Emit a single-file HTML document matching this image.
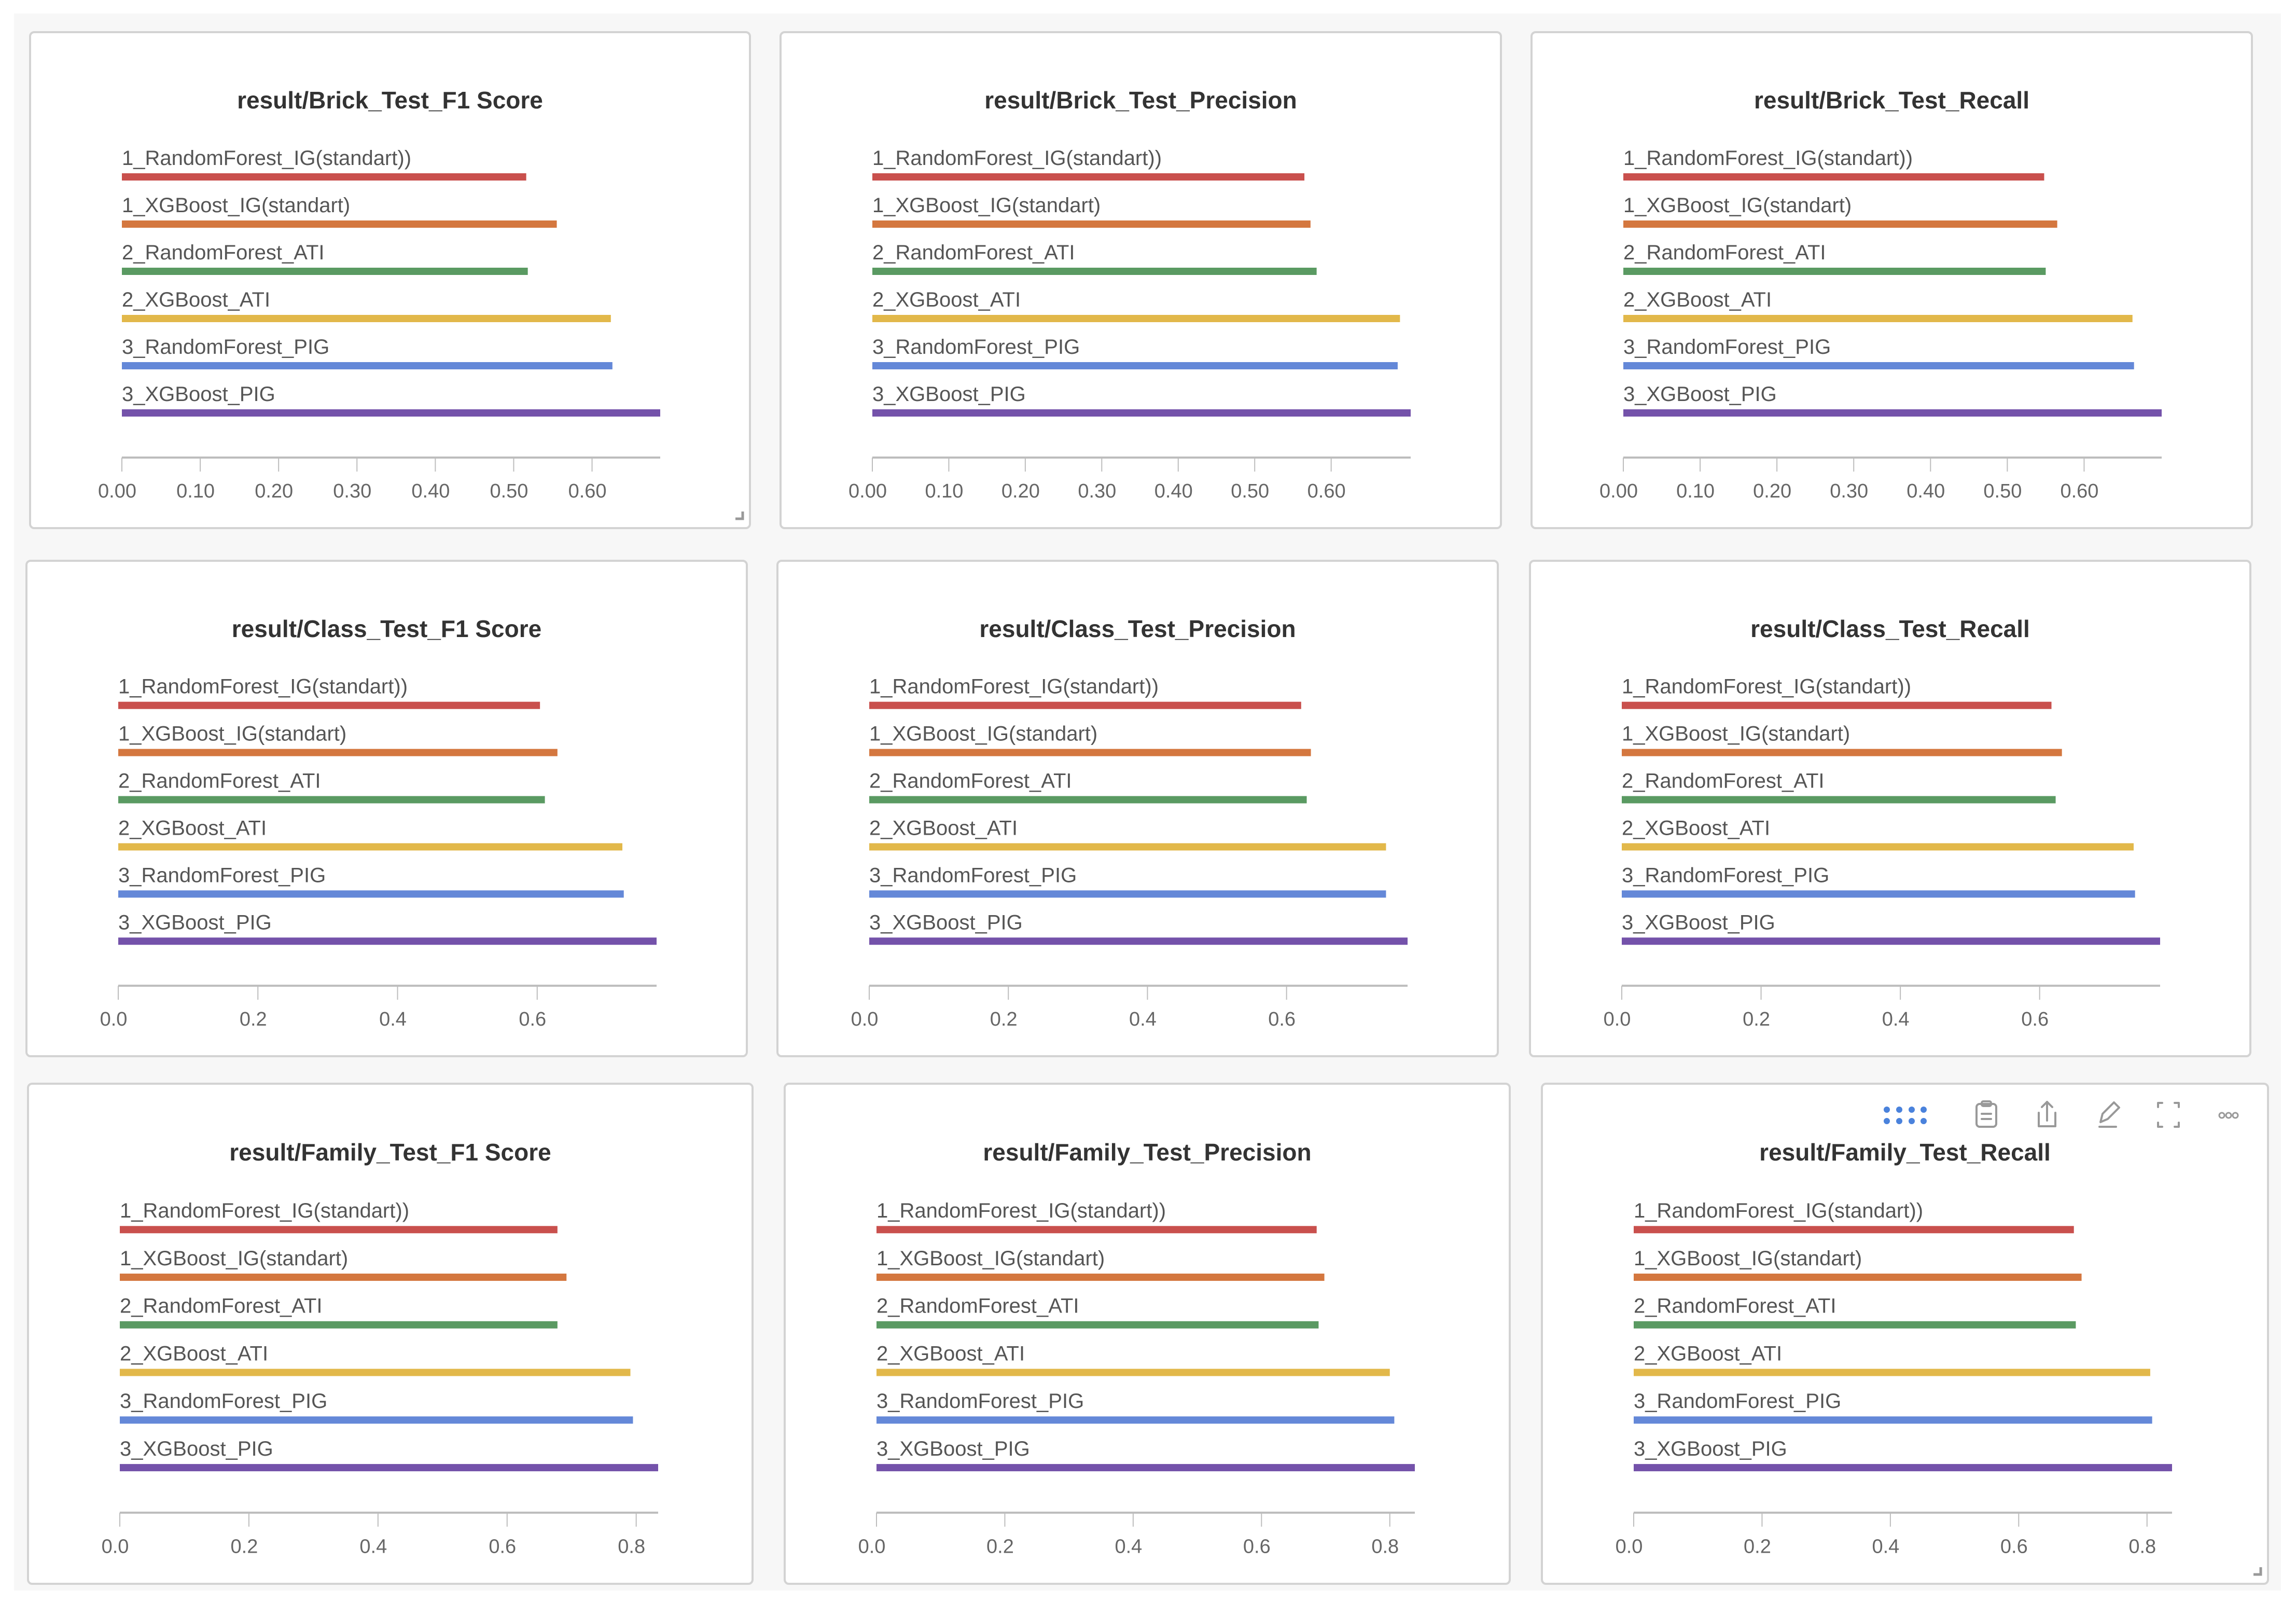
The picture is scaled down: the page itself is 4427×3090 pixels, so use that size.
<!DOCTYPE html>
<html><head><meta charset="utf-8">
<style>
html,body{margin:0;padding:0;background:#fff;}
svg{display:block;font-family:"Liberation Sans",sans-serif;}
</style></head>
<body>
<svg id="root" width="4427" height="3090" viewBox="0 0 4427 3090" xmlns="http://www.w3.org/2000/svg">
<rect x="27" y="26" width="4371" height="3040" fill="#f7f7f7"/>
<g id="panels"></g>
<g fill="none" stroke="#999" stroke-width="4" stroke-linecap="round" stroke-linejoin="round">
  <g fill="#4a82dc" stroke="none">
    <circle cx="3638" cy="2139" r="6"/><circle cx="3662" cy="2139" r="6"/><circle cx="3686" cy="2139" r="6"/><circle cx="3709" cy="2139" r="6"/>
    <circle cx="3638" cy="2161" r="6"/><circle cx="3662" cy="2161" r="6"/><circle cx="3686" cy="2161" r="6"/><circle cx="3709" cy="2161" r="6"/>
  </g>
  <g>
    <rect x="3811" y="2128" width="38" height="44" rx="6"/><rect x="3821" y="2123" width="18" height="9" rx="3"/>
    <line x1="3821" y1="2147" x2="3839" y2="2147"/><line x1="3821" y1="2157" x2="3839" y2="2157"/>
  </g>
  <g>
    <path d="M3931 2145 v26 h32 v-26"/><path d="M3947 2160 v-36 M3937 2134 l10 -10 l10 10"/>
  </g>
  <g>
    <path d="M4050 2163 l4 -16 l22 -22 l10 10 l-22 22 z"/><line x1="4048" y1="2172" x2="4080" y2="2172"/>
  </g>
  <g>
    <path d="M4161 2134 v-8 h8 M4193 2126 h8 v8 M4201 2164 v8 h-8 M4169 2172 h-8 v-8"/>
  </g>
  <g stroke-width="3">
    <circle cx="4284" cy="2150" r="5"/><circle cx="4297" cy="2150" r="5"/><circle cx="4310" cy="2150" r="5"/>
  </g>
</g>
</svg>
<script>
const seriesNames = ["1_RandomForest_IG(standart))","1_XGBoost_IG(standart)","2_RandomForest_ATI","2_XGBoost_ATI","3_RandomForest_PIG","3_XGBoost_PIG"];
const chartTitles = ["result/Brick_Test_F1 Score","result/Brick_Test_Precision","result/Brick_Test_Recall",
  "result/Class_Test_F1 Score","result/Class_Test_Precision","result/Class_Test_Recall",
  "result/Family_Test_F1 Score","result/Family_Test_Precision","result/Family_Test_Recall"];
const brickF1 = [0.516,0.555,0.518,0.624,0.626,0.687];
const brickPrecision = [0.565,0.573,0.581,0.690,0.687,0.704];
const brickRecall = [0.548,0.565,0.550,0.663,0.665,0.701];
const classF1 = [0.604,0.629,0.611,0.722,0.724,0.771];
const classPrecision = [0.621,0.635,0.629,0.743,0.743,0.774];
const classRecall = [0.617,0.632,0.623,0.735,0.737,0.773];
const familyF1 = [0.678,0.692,0.678,0.791,0.795,0.834];
const familyPrecision = [0.686,0.698,0.689,0.800,0.807,0.839];
const familyRecall = [0.686,0.698,0.689,0.805,0.808,0.839];
const brickTicks = ["0.00","0.10","0.20","0.30","0.40","0.50","0.60"];
const classTicks = ["0.0","0.2","0.4","0.6"];
const familyTicks = ["0.0","0.2","0.4","0.6","0.8"];
const colors = ["#c9504d","#d4773f","#5a9a62","#e2b84a","#6488d8","#7452aa"];

const allValues = [brickF1,brickPrecision,brickRecall,classF1,classPrecision,classRecall,familyF1,familyPrecision,familyRecall];
const allTicks = [brickTicks,brickTicks,brickTicks,classTicks,classTicks,classTicks,familyTicks,familyTicks,familyTicks];
const panelRects = [
  [58,62,1388,956],[1505,62,1389,956],[2953,62,1389,956],
  [51,1081,1389,955],[1499,1081,1389,955],[2950,1081,1389,955],
  [54,2089,1397,964],[1513,2089,1398,964],[2973,2089,1400,964]];
const NS = "http://www.w3.org/2000/svg";
const host = document.getElementById("panels");
function mk(tag, attrs, parent){
  const e = document.createElementNS(NS, tag);
  for (const k in attrs) e.setAttribute(k, attrs[k]);
  parent.appendChild(e); return e;
}
panelRects.forEach((r, p) => {
  const [px, py, pw, ph] = r;
  const s = ph / 956;
  const g = mk("g", {}, host);
  
  
  const box = mk("rect", {x:px, y:py, width:pw, height:ph, rx:8, fill:"#fff", stroke:"#d3d3d3", "stroke-width":4}, g);
  
  
  const t = mk("text", {x:px+pw/2, y:py+147*s, "text-anchor":"middle", "font-size":46, "font-weight":"bold", fill:"#333"}, g);
  t.textContent = chartTitles[p];
  
  
  const vals = allValues[p];
  const vmax = Math.max(...vals);
  const x0 = px + 177, W = 1038;
  const xs = v => x0 + v / vmax * W;
  vals.forEach((v, i) => {
    const lab = mk("text", {x:x0, y:py+(256+91*i)*s, "font-size":40, fill:"#555"}, g);
    lab.textContent = seriesNames[i];
    
    
    const b = mk("rect", {x:x0, y:py+(272+91*i)*s, width:xs(v)-x0, height:14, fill:colors[i]}, g);
    
    
  });
  const ay = py + 820*s;
  const ax = mk("line", {x1:x0, y1:ay, x2:xs(vmax), y2:ay, stroke:"#bdbdbd", "stroke-width":4}, g);
  
  
  allTicks[p].forEach(tk => {
    const tx = xs(parseFloat(tk));
    const tl = mk("line", {x1:tx, y1:ay, x2:tx, y2:ay+27, stroke:"#bdbdbd", "stroke-width":2}, g);
    
    
    const tt = mk("text", {x:tx-9, y:py+897*s, "text-anchor":"middle", "font-size":38, fill:"#666"}, g);
    tt.textContent = tk;
    
    
  });
  if (p === 0 || p === 8) {
    const c = mk("path", {d:`M${px+pw-28} ${py+ph-18} h14 v-14`, fill:"none", stroke:"#999", "stroke-width":5}, g);
    
    
  }
});
</script>
</body></html>
